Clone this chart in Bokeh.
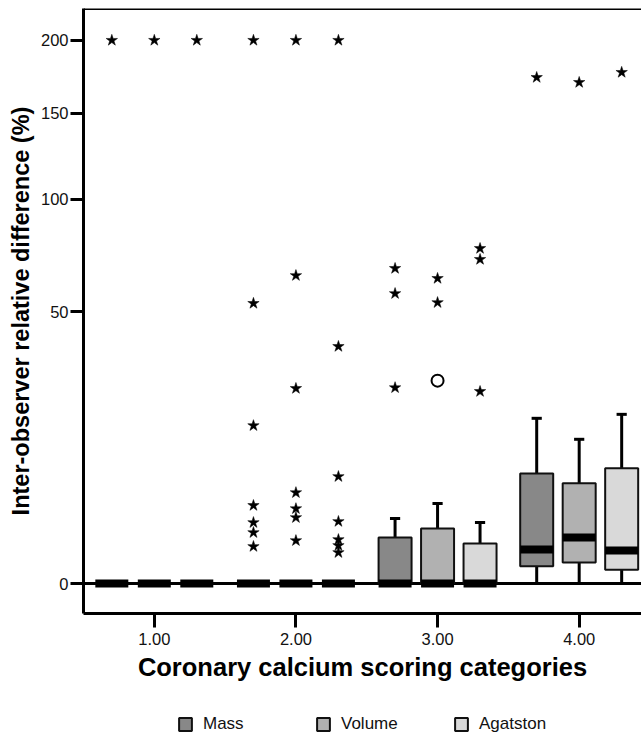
import math
from bokeh.plotting import figure
from bokeh.layouts import column
from bokeh.models import (Range1d, FixedTicker, Span, Legend, LegendItem,
                          ColumnDataSource)
from bokeh.embed import file_html
from bokeh.resources import INLINE

# ---------------- data ----------------
categories = [1, 2, 3, 4]
category_labels = ["1.00", "2.00", "3.00", "4.00"]
y_tick_values = [0, 50, 100, 150, 200]

series_names = ["Mass", "Volume", "Agatston"]

# box statistics per category (values in %)
mass_q1 = [0, 0, 0, 0.20]
mass_median = [0, 0, 0, 0.78]
mass_q3 = [0, 0, 1.43, 8.2]
mass_whisker_high = [0, 0, 2.87, 18.5]
mass_whisker_low = [0, 0, 0, 0]

volume_q1 = [0, 0, 0, 0.30]
volume_median = [0, 0, 0, 1.43]
volume_q3 = [0, 0, 2.05, 6.8]
volume_whisker_high = [0, 0, 4.34, 14.1]
volume_whisker_low = [0, 0, 0, 0]

agatston_q1 = [0, 0, 0, 0.13]
agatston_median = [0, 0, 0, 0.74]
agatston_q3 = [0, 0, 1.09, 9.0]
agatston_whisker_high = [0, 0, 2.52, 19.4]
agatston_whisker_low = [0, 0, 0, 0]

# extreme values (asterisks)
mass_extreme_cat = [1, 2, 2, 2, 2, 2, 2, 2, 3, 3, 3, 4]
mass_extreme_val = [200, 200, 53.2, 16.9, 4.13, 2.52, 1.76, 0.93, 67.3, 57.0, 26.0, 173.6]
volume_extreme_cat = [1, 2, 2, 2, 2, 2, 2, 2, 3, 3, 4]
volume_extreme_val = [200, 200, 64.3, 25.8, 5.6, 3.8, 2.95, 1.25, 63.1, 53.5, 170.2]
agatston_extreme_cat = [1, 2, 2, 2, 2, 2, 2, 2, 3, 3, 3, 4]
agatston_extreme_val = [200, 200, 38.1, 7.76, 2.61, 1.31, 0.98, 0.65, 76.1, 71.2, 25.0, 177.1]

# outliers (circles)
volume_outlier_cat = [3]
volume_outlier_val = [27.9]

# ---------------- styles ----------------
colors = ["#888888", "#b1b1b1", "#d9d9d9"]
offsets = [-0.3, 0.0, 0.3]
box_w = 0.233
cap_half = 0.036
FONT = "Liberation Sans"
Y_TOP = 14.97


def sq(vals):
    # square-root axis scale
    return [math.sqrt(v) for v in vals]


p = figure(frame_width=558, frame_height=605,
           x_range=Range1d(0.5, 4.44), y_range=Range1d(-0.78, Y_TOP),
           output_backend="svg", toolbar_location=None,
           min_border_left=83, min_border_right=0, min_border_top=8,
           min_border_bottom=80)
p.outline_line_color = None
p.grid.visible = False
p.background_fill_color = "white"

# top border line
top_line = Span(location=Y_TOP, dimension="width", line_color="black", line_width=3)
p.add_layout(top_line)
# zero reference line
zero_line = Span(location=0, dimension="width", line_color="black", line_width=3,
                 level="underlay")
p.add_layout(zero_line)

groups = [
    (mass_q1, mass_median, mass_q3, mass_whisker_high, mass_whisker_low,
     mass_extreme_cat, mass_extreme_val, [], []),
    (volume_q1, volume_median, volume_q3, volume_whisker_high, volume_whisker_low,
     volume_extreme_cat, volume_extreme_val, volume_outlier_cat, volume_outlier_val),
    (agatston_q1, agatston_median, agatston_q3, agatston_whisker_high, agatston_whisker_low,
     agatston_extreme_cat, agatston_extreme_val, [], []),
]

box_sources = []
for (name, color, off, g) in zip(series_names, colors, offsets, groups):
    q1, med, q3, hi, lo, ext_c, ext_v, out_c, out_v = g
    xs = [c + off for c in categories]
    src = ColumnDataSource(dict(x=xs, q1=sq(q1), med=sq(med), q3=sq(q3),
                                hi=sq(hi), lo=sq(lo),
                                cl=[x - cap_half for x in xs],
                                cr=[x + cap_half for x in xs]))
    box_sources.append(src)
    p.segment(x0="x", y0="q3", x1="x", y1="hi", source=src,
              line_color="black", line_width=3)
    p.segment(x0="x", y0="lo", x1="x", y1="q1", source=src,
              line_color="black", line_width=3)
    p.segment(x0="cl", y0="hi", x1="cr", y1="hi", source=src,
              line_color="black", line_width=3)
    p.vbar(x="x", bottom="q1", top="q3", width=box_w, source=src,
           fill_color=color, line_color="#111111", line_width=2)
    p.rect(x="x", y="med", width=box_w, height=8, height_units="screen",
           source=src, fill_color="black", line_color=None)
    p.scatter([c + off for c in ext_c], sq(ext_v), marker="star", size=12,
              fill_color="black", line_color="black", line_width=0.5)
    if out_c:
        p.scatter([c + off for c in out_c], sq(out_v), marker="circle", size=12,
                  fill_color="white", line_color="black", line_width=2)

# axes
p.xaxis.ticker = FixedTicker(ticks=categories)
p.xaxis.major_label_overrides = {c: l for c, l in zip(categories, category_labels)}
p.yaxis.ticker = FixedTicker(ticks=sq(y_tick_values))
p.yaxis.major_label_overrides = {math.sqrt(v): str(v) for v in y_tick_values}

for ax in (p.xaxis[0], p.yaxis[0]):
    ax.axis_line_width = 3
    ax.axis_line_color = "black"
    ax.major_tick_line_width = 3
    ax.major_tick_line_color = "black"
    ax.major_tick_in = 0
    ax.minor_tick_line_color = None
    ax.major_label_text_font = FONT
    ax.major_label_text_font_size = "16.5px"
    ax.major_label_text_color = "#111111"
    ax.axis_label_text_font = FONT
    ax.axis_label_text_font_style = "bold"
    ax.axis_label_text_color = "black"

p.yaxis.major_tick_out = 13
p.yaxis.major_label_standoff = 2
p.yaxis.axis_label = "Inter-observer relative difference (%)"
p.yaxis.axis_label_text_font_size = "23.5px"
p.yaxis.axis_label_standoff = 4

p.xaxis.major_tick_out = 14
p.xaxis.major_label_standoff = 5
p.xaxis.axis_label = "Coronary calcium scoring categories"
p.xaxis.axis_label_text_font_size = "25.5px"
p.xaxis.axis_label_standoff = 5

# ---------------- legend strip (separate small figure) ----------------
# legend renderers share the box data but are hidden; only their legend shows
p_leg = figure(width=641, height=43, x_range=p.x_range, y_range=Range1d(20, 21),
               output_backend="svg", toolbar_location=None,
               x_axis_location=None, y_axis_location=None, min_border=0)
p_leg.outline_line_color = None
p_leg.grid.visible = False

legend_items = []
for name, color, src in zip(series_names, colors, box_sources):
    r = p_leg.vbar(x="x", bottom="q1", top="q3", width=box_w, source=src,
                   fill_color=color, line_color="#111111", line_width=2)
    r.visible = False
    legend_items.append(LegendItem(label=name, renderers=[r]))

legend = Legend(items=legend_items, orientation="horizontal", location=(94, 2.5),
                glyph_width=16, glyph_height=16, label_height=16, label_width=70,
                spacing=42, label_standoff=10, padding=0, margin=0,
                border_line_color=None, background_fill_alpha=0,
                click_policy="none",
                label_text_font=FONT, label_text_font_size="17px",
                label_text_color="#111111")
p_leg.add_layout(legend)

layout = column(p, p_leg, spacing=0)
open("out.html", "w").write(file_html(layout, INLINE))
